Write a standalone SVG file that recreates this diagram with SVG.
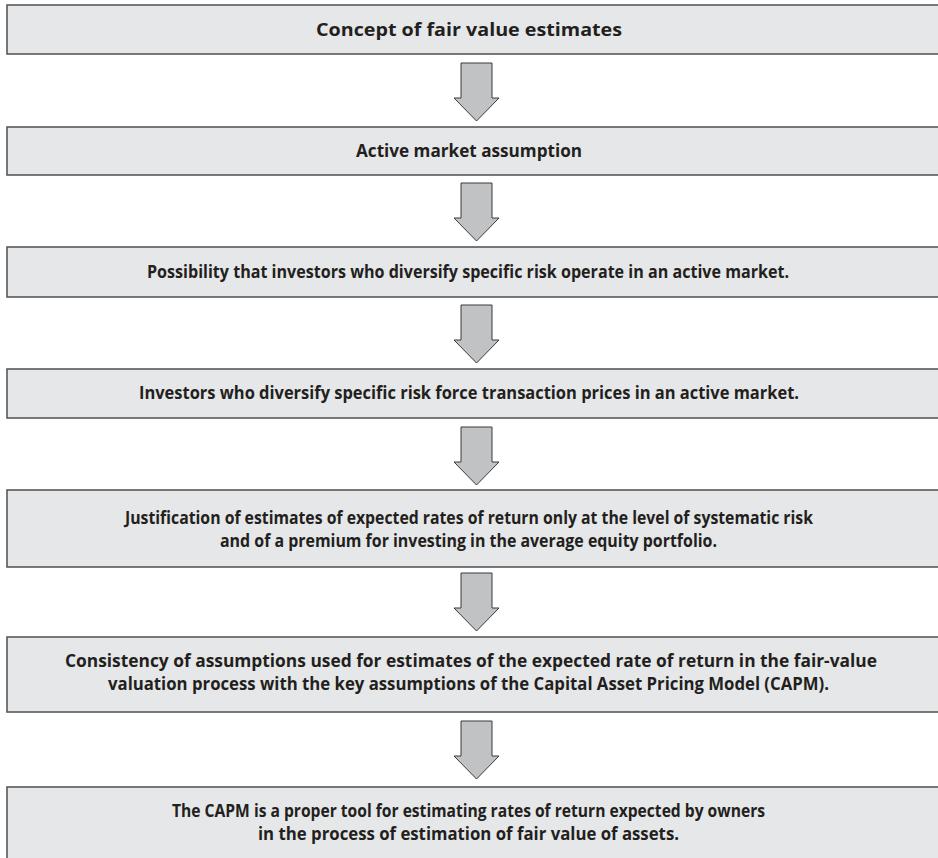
<svg xmlns="http://www.w3.org/2000/svg" xmlns:xlink="http://www.w3.org/1999/xlink" width="938" height="858" viewBox="0 0 938 858">
<style>
.box{fill:#e6e7e8;stroke:#58595b;stroke-width:1.6}
.arr{fill:#c1c2c4;stroke:#3a3a3a;stroke-width:1}
.t{font-family:"Open Sans","Noto Sans","Liberation Sans",sans-serif;font-weight:bold;font-size:17.5px;fill:#231f20;text-anchor:middle}
</style>
<defs>
<path id="a" class="arr" d="M461,0 H492 V35 H499 L476.5,58 L454,35 H461 Z"/>
</defs>
<rect width="938" height="858" fill="#fff"/>
<g id="connectors">
<use xlink:href="#a" transform="translate(0,63)"/>
<use xlink:href="#a" transform="translate(0,183)"/>
<use xlink:href="#a" transform="translate(0,305)"/>
<use xlink:href="#a" transform="translate(0,427)"/>
<use xlink:href="#a" transform="translate(0,573)"/>
<use xlink:href="#a" transform="translate(0,721)"/>
</g>
<g id="n1"><rect class="box" x="7" y="5" width="940" height="49"/>
<text class="t" x="469" y="36" textLength="306" lengthAdjust="spacingAndGlyphs">Concept of fair value estimates</text></g>
<g id="n2"><rect class="box" x="7" y="127" width="940" height="48"/>
<text class="t" x="469" y="157" textLength="226" lengthAdjust="spacingAndGlyphs">Active market assumption</text></g>
<g id="n3"><rect class="box" x="7" y="247" width="940" height="50"/>
<text class="t" x="468" y="278" textLength="642" lengthAdjust="spacingAndGlyphs">Possibility that investors who diversify specific risk operate in an active market.</text></g>
<g id="n4"><rect class="box" x="7" y="369" width="940" height="49"/>
<text class="t" x="469" y="399" textLength="660" lengthAdjust="spacingAndGlyphs">Investors who diversify specific risk force transaction prices in an active market.</text></g>
<g id="n5"><rect class="box" x="7" y="490" width="940" height="77"/>
<text class="t" x="469" y="524" textLength="688" lengthAdjust="spacingAndGlyphs">Justification of estimates of expected rates of return only at the level of systematic risk</text>
<text class="t" x="468.5" y="547" textLength="497" lengthAdjust="spacingAndGlyphs">and of a premium for investing in the average equity portfolio.</text></g>
<g id="n6"><rect class="box" x="7" y="637" width="940" height="75"/>
<text class="t" x="471" y="667" textLength="812" lengthAdjust="spacingAndGlyphs">Consistency of assumptions used for estimates of the expected rate of return in the fair-value</text>
<text class="t" x="468.5" y="690" textLength="721" lengthAdjust="spacingAndGlyphs">valuation process with the key assumptions of the Capital Asset Pricing Model (CAPM).</text></g>
<g id="n7"><rect class="box" x="7" y="787" width="940" height="80"/>
<text class="t" x="468.5" y="817" textLength="593" lengthAdjust="spacingAndGlyphs">The CAPM is a proper tool for estimating rates of return expected by owners</text>
<text class="t" x="468.5" y="840" textLength="421" lengthAdjust="spacingAndGlyphs">in the process of estimation of fair value of assets.</text></g>
</svg>
